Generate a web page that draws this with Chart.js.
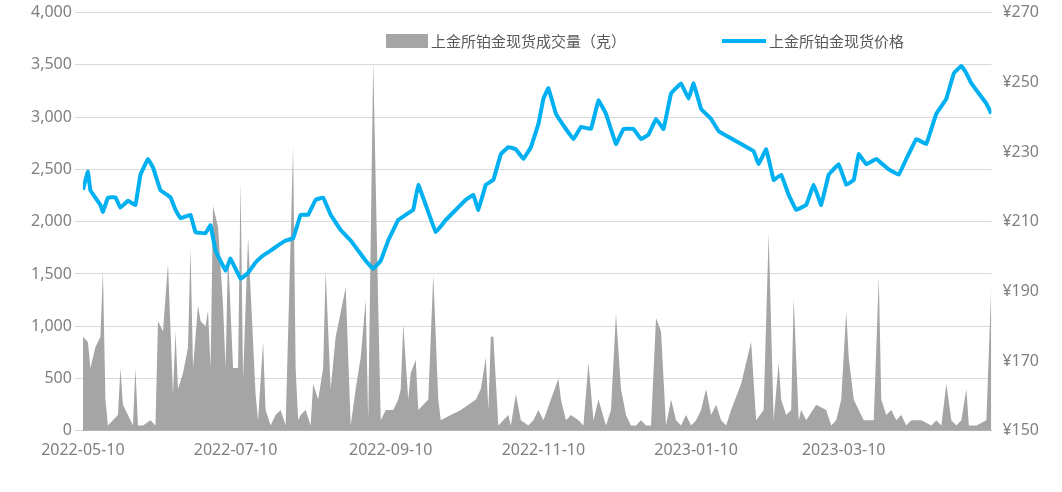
<!DOCTYPE html>
<html>
<head>
<meta charset="utf-8">
<script src="https://cdn.jsdelivr.net/npm/chart.js@4"></script>
<style>
  body { margin: 0; background: #fff; font-family: "Noto Sans CJK SC", sans-serif; }
  #wrap { position: relative; width: 1062px; height: 492px; }
  .lg { position: absolute; top: 30px; font-size: 15px; color: #595959; display: flex; align-items: center; }
  .sw { display: inline-block; margin-right: 3px; }
</style>
</head>
<body>
<div id="wrap">
  <canvas id="chart" width="1062" height="492"></canvas>
  <div class="lg" style="left:386px"><span class="sw" style="width:42px;height:14px;background:#a5a5a5"></span>上金所铂金现货成交量（克）</div>
  <div class="lg" style="left:722px"><span class="sw" style="width:44px;height:4px;background:#00b0f0"></span>上金所铂金现货价格</div>
</div>
<script>
const startDate = new Date(2022, 4, 10);
const tickDays = [0, 61, 123, 184, 245, 304];

// volume: day offset from 2022-05-10 and grams
const volDays = [0,2,3,5,7,8,9,10,12,14,15,16,18,20,21,22,24,27,29,30,32,34,36,37,38,40,42,43,44,46,47,49,50,51,52,54,56,57,58,60,62,63,64,66,67,69,70,72,73,75,77,79,81,84,85,86,87,89,91,92,94,96,97,99,101,105,107,109,111,113,114,116,118,119,121,124,126,127,128,130,131,133,134,136,138,140,142,143,147,151,157,159,161,162,163,164,166,168,170,171,173,175,178,180,182,184,187,190,191,193,195,198,200,202,204,206,209,211,213,215,217,219,221,223,225,227,229,231,233,235,237,239,241,243,245,247,249,251,253,255,257,259,263,267,269,272,274,276,278,279,281,283,284,286,287,289,293,297,299,301,303,305,306,308,310,312,314,316,318,319,321,323,325,327,329,331,335,339,341,343,345,347,349,351,353,354,357,361,363];
const volValues = [900,850,600,800,900,1530,300,50,100,150,600,250,150,50,600,50,50,100,50,1050,950,1600,350,950,400,550,800,1750,600,1200,1050,1000,1150,600,2150,1950,1200,600,1700,600,600,2380,500,1850,1350,350,100,850,200,50,150,200,50,2720,600,100,150,200,50,450,300,600,1530,400,900,1370,50,400,700,1250,100,3540,1200,100,200,200,300,400,1020,300,550,680,200,250,300,1490,300,100,150,200,300,400,700,200,900,900,50,100,150,50,350,100,50,100,200,100,300,500,300,100,150,100,50,650,100,300,50,200,1120,400,150,50,50,100,50,50,1080,950,50,300,100,50,150,50,100,200,400,150,250,100,50,200,450,850,100,200,1890,100,650,300,150,200,1270,100,200,100,250,200,50,100,300,1140,700,300,200,100,100,100,1470,300,150,200,100,150,50,100,100,50,100,50,450,100,50,100,400,50,50,100,1420];

// price: day offset and yuan per gram
const priceDays = [0,2,3,7,8,10,13,15,18,21,23,26,28,31,35,37,39,43,45,49,51,53,57,59,63,66,69,72,75,78,81,84,87,90,93,96,99,103,107,110,113,116,119,122,126,129,132,134,137,141,145,149,153,156,158,161,164,167,170,173,176,179,182,184,186,189,193,196,199,203,206,209,213,216,220,223,226,229,232,235,239,242,244,247,251,254,258,263,268,270,273,276,279,282,285,289,292,295,298,302,305,308,310,313,317,322,326,329,333,337,341,345,348,351,353,355,361,363];
const priceValues = [219.2,224.4,219,214.8,212.8,216.9,217,214,216,214.8,223.5,228,225.6,219,217,213.4,211,212,207,206.7,209,201.7,196,199.4,193.6,195.3,198.3,200.3,201.7,203.2,204.6,205.2,212,212,216.3,216.9,212,207.6,204.6,201.7,198.8,196.5,198.8,204.6,210.5,212,213.4,220.6,214.8,207,210.5,213.4,216.3,217.7,213.4,220.6,222,229.4,231.4,230.8,228,231.4,238,245.3,248.3,241,236.6,233.7,237.2,236.6,244.8,241,232.3,236.6,236.6,233.7,235,239.5,236.6,246.8,249.7,245.3,249.7,242.4,239.5,236,234.3,232.3,230.2,226.5,230.8,222,223.5,217.7,213.4,214.8,220.6,214.8,223.5,226.5,220.6,222,229.4,226.5,228,225,223.5,228,233.7,232.3,241,245.3,252.6,254.7,252.6,249.7,243.9,241];

const fmtDate = d => {
  const t = new Date(startDate.getTime() + d * 86400000);
  return t.getFullYear() + "-" + String(t.getMonth() + 1).padStart(2, "0") + "-" + String(t.getDate()).padStart(2, "0");
};

const tickFont = { family: "Noto Sans", size: 16 };
new Chart(document.getElementById("chart"), {
  data: {
    datasets: [
      {
        type: "line",
        label: "上金所铂金现货价格",
        data: priceDays.map((d, i) => ({ x: d, y: priceValues[i] })),
        yAxisID: "y1",
        borderColor: "#00b0f0",
        borderWidth: 4,
        pointRadius: 0,
        tension: 0.05,
        fill: false,
      },
      {
        type: "line",
        label: "上金所铂金现货成交量（克）",
        data: volDays.map((d, i) => ({ x: d, y: volValues[i] })),
        yAxisID: "y",
        borderColor: "#a5a5a5",
        backgroundColor: "#a5a5a5",
        borderWidth: 0,
        pointRadius: 0,
        fill: "origin",
      },
    ],
  },
  options: {
    responsive: false,
    animation: false,
    layout: { padding: { top: 6, right: 20, left: 28, bottom: 30 } },
    plugins: { legend: { display: false }, tooltip: { enabled: false } },
    scales: {
      x: {
        type: "linear",
        min: 0,
        max: 363,
        afterBuildTicks: axis => { axis.ticks = tickDays.map(v => ({ value: v })); },
        ticks: { callback: v => fmtDate(v), color: "#808080", font: tickFont, maxRotation: 0, padding: 2 },
        grid: { display: false },
        border: { color: "#bfbfbf" },
      },
      y: {
        position: "left",
        min: 0,
        max: 4000,
        ticks: { stepSize: 500, color: "#808080", font: tickFont, callback: v => v.toLocaleString("en-US") },
        grid: { color: "#d9d9d9" },
        border: { display: false },
      },
      y1: {
        position: "right",
        min: 150,
        max: 270,
        ticks: { stepSize: 20, color: "#808080", font: tickFont, callback: v => "¥" + v },
        grid: { display: false },
        border: { display: false },
      },
    },
  },
});
</script>
</body>
</html>
